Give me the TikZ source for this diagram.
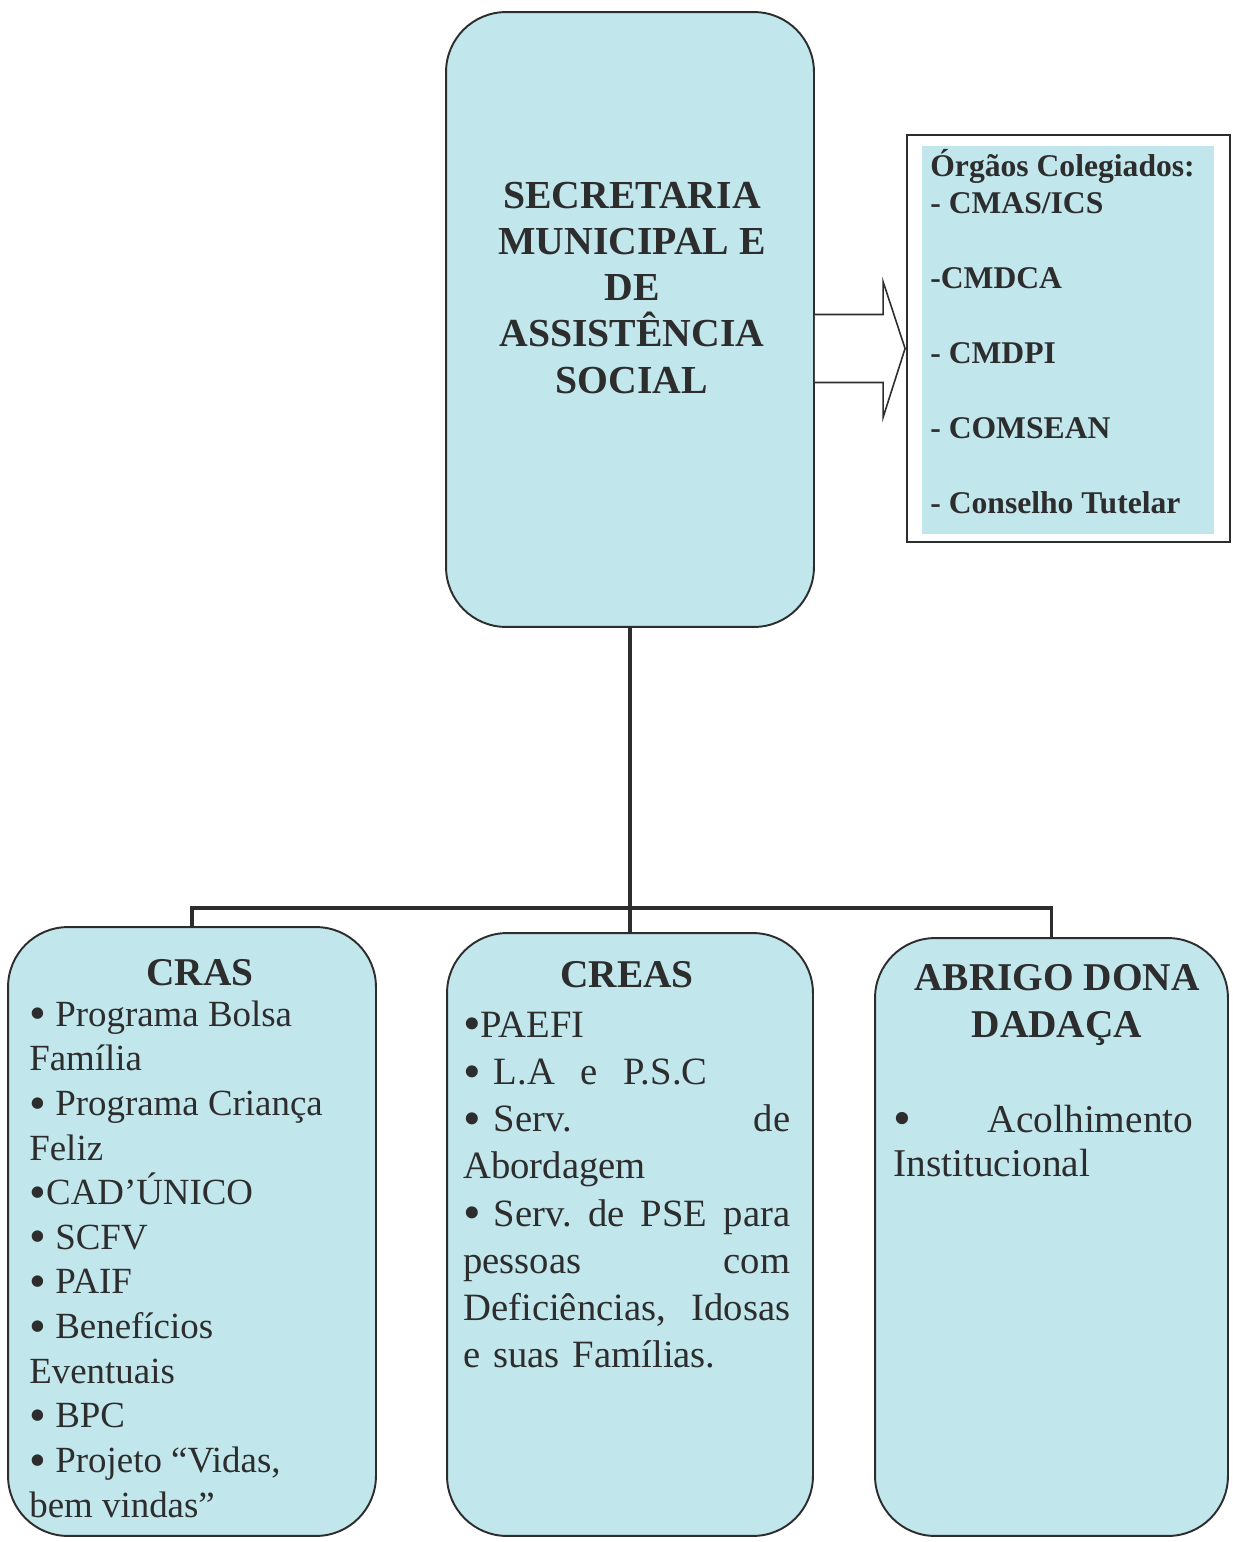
\documentclass[tikz,border=0pt]{standalone}
\usepackage{fontspec}
\setmainfont{Liberation Serif}
\usetikzlibrary{calc}

\definecolor{boxfill}{RGB}{193,230,236}
\definecolor{inkgray}{RGB}{45,45,45}
\newcommand{\dotmark}{\smash{\raisebox{-0.1em}{\scalebox{1.3}{\textbullet}}}}

\begin{document}
\begin{tikzpicture}[x=0.02cm, y=-0.02cm,
    unitbox/.style={draw=inkgray, fill=boxfill, line width=1.1pt, rounded corners=1.2cm, inner sep=0pt},
    heading/.style={text=inkgray, font=\bfseries\fontsize{22.4}{26.7}\selectfont, align=center, inner sep=0pt, anchor=base},
    itemtext/.style={text=inkgray, inner sep=0pt, anchor=base west, align=left},
    link/.style={draw=inkgray, line width=2.2pt},
    blockarrow/.style={draw=inkgray, fill=white, line width=0.9pt, line join=miter}]
    \useasboundingbox (0,0) rectangle (1232,1542);

    % Secretaria (text nodes without text width sit on their last baseline)
    \node[unitbox, minimum width=7.36cm, minimum height=12.3cm] (secretaria) at (630,319.5) {};
    \node[heading, font=\bfseries\fontsize{22.6}{26.3}\selectfont] (secretariaText) at (632,393) {SECRETARIA\\MUNICIPAL E\\DE\\ASSISTÊNCIA\\SOCIAL};

    % Orgaos colegiados
    \node[draw=inkgray, fill=white, line width=1.1pt, minimum width=6.46cm, minimum height=8.14cm, inner sep=0pt] (orgaos) at (1068.5,338.5) {};
    \fill[boxfill] ($(orgaos.north west)+(16,12)$) rectangle ($(orgaos.south east)+(-17,-9)$);
    \node[itemtext, font=\bfseries\fontsize{18}{21.3}\selectfont] (orgaosList) at (930,513) {Órgãos Colegiados:\\- CMAS/ICS\\[21.3pt]-CMDCA\\[21.3pt]- CMDPI\\[21.3pt]- COMSEAN\\[21.3pt]- Conselho Tutelar};

    % Block arrow to the councils
    \coordinate (tip) at ($(orgaos.west)+(-1,10)$);
    \draw[blockarrow] ($(secretaria.east |- tip)+(0,-34)$) -- ($(tip)+(-22,-34)$) -- ($(tip)+(-22,-67)$) -- (tip)
        -- ($(tip)+(-22,69)$) -- ($(tip)+(-22,34)$) -- ($(secretaria.east |- tip)+(0,34)$);

    % Units
    \node[unitbox, minimum width=7.36cm, minimum height=12.18cm] (cras) at (192,1231.5) {};
    \node[unitbox, minimum width=7.32cm, minimum height=12.06cm] (creas) at (630,1234.5) {};
    \node[unitbox, minimum width=7.06cm, minimum height=11.96cm] (abrigo) at (1051.5,1237) {};

    % Connectors
    \coordinate (bus) at (630,908);
    \draw[link] (secretaria.south) -- (creas.north);
    \draw[link] (cras.north) -- (cras.north |- bus) -- (abrigo.north |- bus) -- (abrigo.north);

    % CRAS
    \node[heading] (crasTitle) at (200,985) {CRAS};
    \node[itemtext, font=\fontsize{21}{25.4}\selectfont] (crasList) at (29,1517) {\dotmark{} Programa Bolsa\\Família\\\dotmark{} Programa Criança\\Feliz\\\dotmark CAD’ÚNICO\\\dotmark{} SCFV\\\dotmark{} PAIF\\\dotmark{} Benefícios\\Eventuais\\\dotmark{} BPC\\\dotmark{} Projeto “Vidas,\\bem vindas”};

    % CREAS (text width: node sits on its first baseline)
    \node[heading] (creasTitle) at (627,987) {CREAS};
    \node[itemtext, text width=6.54cm, font=\fontsize{22}{26.9}\selectfont] (creasList) at (463,1037) {\dotmark PAEFI\\\dotmark{} L.A\ \ e\ \ P.S.C\\\dotmark{} Serv.\hfill de\\Abordagem\\\dotmark{} Serv.\hfill de\hfill PSE\hfill para\\pessoas\hfill com\\Deficiências,\hfill Idosas\\e suas Famílias.};

    % Abrigo
    \node[heading] (abrigoTitle) at (1057,1037) {ABRIGO DONA\\DADAÇA};
    \node[itemtext, text width=6.0cm, font=\fontsize{22.4}{25.6}\selectfont] (abrigoList) at (893,1132) {\dotmark\hfill Acolhimento\\Institucional};

\end{tikzpicture}
\end{document}
